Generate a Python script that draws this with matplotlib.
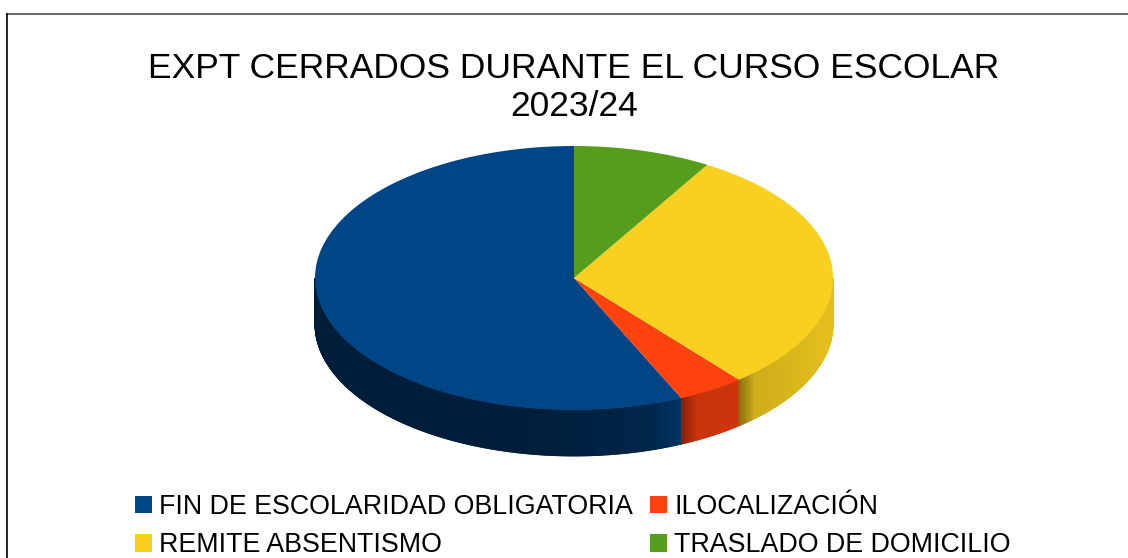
import numpy as np
import matplotlib
matplotlib.use("Agg")
import matplotlib.pyplot as plt
from matplotlib.collections import PolyCollection
from matplotlib.lines import Line2D
from matplotlib.colors import to_rgb

plt.rcParams['font.family'] = ['Liberation Sans', 'DejaVu Sans']

title = "EXPT CERRADOS DURANTE EL CURSO ESCOLAR\n2023/24"
categories = ["FIN DE ESCOLARIDAD OBLIGATORIA", "ILOCALIZACIÓN", "REMITE ABSENTISMO", "TRASLADO DE DOMICILIO"]
values = [56.8, 4.2, 30.4, 8.6]
colors = ["#004586", "#ff420e", "#f9d01f", "#579d1c"]

W, H = 1128, 558
cx, cy, rx, ry, depth = 574, 278, 259, 132, 46

fig = plt.figure(figsize=(W / 100, H / 100), dpi=100, facecolor="white")
ax = fig.add_axes([0, 0, 1, 1])

wedges, _ = ax.pie(values, colors=colors, startangle=90, counterclock=True, radius=1,
                   center=(0, 0), frame=False, wedgeprops=dict(linewidth=0, zorder=5))
ax.set_aspect("auto")
ax.set_xlim(-cx / rx, (W - cx) / rx)
ax.set_ylim((cy - H) / ry, cy / ry)
ax.axis("off")

# Side wall of the disc, shaded in thin strips
d = depth / ry
xn = [-1.0, -0.2, 0.1, 0.3, 0.42, 0.6, 0.8, 1.0]
fn = [0.42, 0.44, 0.50, 0.56, 0.78, 0.80, 0.86, 0.92]
start = 90.0
total = sum(values)
for v, c in zip(values, colors):
    a0 = start
    a1 = start + 360.0 * v / total
    start = a1
    lo, hi = max(a0, 180.0), min(a1, 360.0)
    if hi <= lo:
        continue
    edges = np.radians(np.arange(lo, hi + 0.2, 0.2))
    polys, cols = [], []
    rgb = np.array(to_rgb(c))
    for t0, t1 in zip(edges[:-1], edges[1:]):
        x0, x1 = np.cos(t0), np.cos(t1)
        y0, y1 = np.sin(t0), np.sin(t1)
        polys.append([(x0, y0), (x1, y1), (x1, y1 - d), (x0, y0 - d)])
        f = np.interp(0.5 * (x0 + x1), xn, fn)
        # darker band right next to the neighbouring slice on the left
        px = abs(np.cos(np.radians(lo)) - 0.5 * (x0 + x1)) * rx
        if lo > 180.0 and np.cos(np.radians(lo)) > 0:
            f *= np.interp(px, [0, 16], [0.66, 1.0])
        cols.append(np.clip(rgb * f, 0, 1))
    ax.add_collection(PolyCollection(polys, facecolors=cols, edgecolors=cols, linewidths=0.6, zorder=2))

fig.text(574 / W, 1 - 87.5 / H, title, ha="center", va="center", fontsize=25.5, color="black", linespacing=1.21)

handles = [plt.Rectangle((0, 0), 1, 1, facecolor=c, edgecolor="none") for c in colors]
# column-wise ordering for a two-row, two-column legend
order = [0, 2, 1, 3]
fig.legend([handles[i] for i in order], [categories[i] for i in order], ncol=2, frameon=False,
           loc="lower left", bbox_to_anchor=(124 / W, -11 / H), borderaxespad=0, borderpad=0.4,
           fontsize=19.3, handlelength=0.65, handleheight=0.65, handletextpad=0.26,
           columnspacing=0.62, labelspacing=0.46, labelcolor="black")

fig.add_artist(Line2D([6.5 / W, 1], [1 - 14 / H, 1 - 14 / H], color="#666666", lw=1.4))
fig.add_artist(Line2D([6.5 / W, 6.5 / W], [0, 1 - 14 / H], color="black", lw=1.2))

fig.savefig("out.png", dpi=100, facecolor="white")
